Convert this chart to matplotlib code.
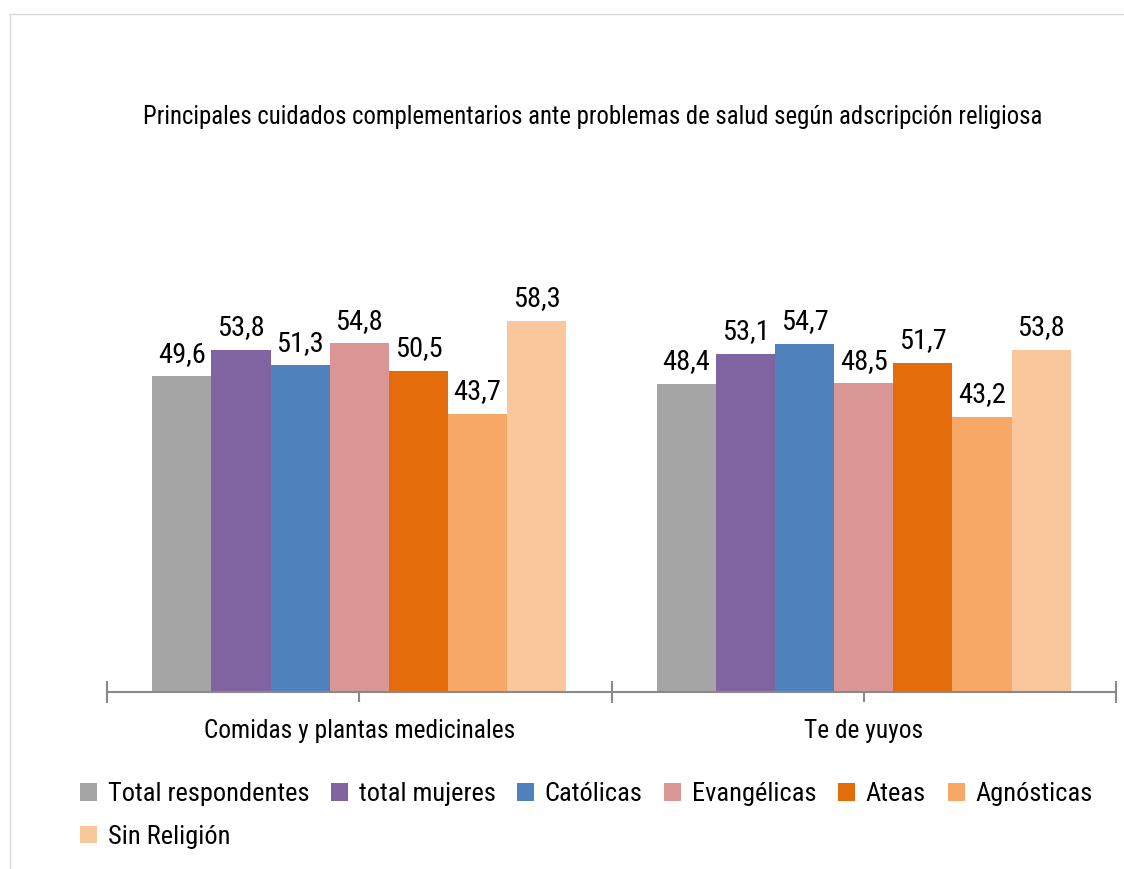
import matplotlib
matplotlib.use("Agg")
import matplotlib.pyplot as plt
import matplotlib.transforms as mtransforms
from matplotlib.patches import Patch
from matplotlib.lines import Line2D
import numpy as np

plt.rcParams['font.family'] = ['Roboto Condensed', 'DejaVu Sans']

# Data
categories = ["Comidas y plantas medicinales", "Te de yuyos"]
series_names = ["Total respondentes", "total mujeres", "Católicas", "Evangélicas",
                "Ateas", "Agnósticas", "Sin Religión"]
total_respondentes = [49.6, 48.4]
total_mujeres = [53.8, 53.1]
catolicas = [51.3, 54.7]
evangelicas = [54.8, 48.5]
ateas = [50.5, 51.7]
agnosticas = [43.7, 43.2]
sin_religion = [58.3, 53.8]
series_values = [total_respondentes, total_mujeres, catolicas, evangelicas,
                 ateas, agnosticas, sin_religion]
colors = ["#A5A5A5", "#8064A2", "#4F81BD", "#D99694", "#E46C0A", "#F7A866", "#FAC69C"]
title = "Principales cuidados complementarios ante problemas de salud según adscripción religiosa"

W, H = 1124, 869
fig = plt.figure(figsize=(W / 100, H / 100), dpi=100)

# axes placed to match the reference pixel layout
ax_left, ax_right = 107 / W, 1116 / W
ax_bottom = (H - 692) / H
ax_height = 70 * 6.365 / H
ax = fig.add_axes([ax_left, ax_bottom, ax_right - ax_left, ax_height])

x = np.arange(len(categories))
w = 0.1172
n = len(series_values)
for i, vals in enumerate(series_values):
    pos = x + (i - (n - 1) / 2) * w
    bars = ax.bar(pos, vals, width=w, color=colors[i], label=series_names[i], zorder=2)
    for b, v in zip(bars, vals):
        ax.annotate(("%.1f" % v).replace(".", ","),
                    (b.get_x() + b.get_width() / 2, v),
                    xytext=(0, 10.5), textcoords="offset points",
                    ha="center", va="baseline", fontsize=20.5, color="#000000")

ax.set_xlim(-0.5, 1.5)
ax.set_ylim(0, 70)
for s in ["top", "right", "left"]:
    ax.spines[s].set_visible(False)
ax.spines["bottom"].set_color("#898989")
ax.spines["bottom"].set_linewidth(1.5)
ax.spines["bottom"].set_zorder(3)
ax.set_yticks([])
ax.set_xticks([-0.5, 0.5, 1.5])
ax.set_xticks(x, minor=True)
ax.tick_params(axis="x", which="major", direction="inout", length=16,
               width=1.5, color="#898989", labelbottom=False)
ax.tick_params(axis="x", which="minor", direction="out", length=7,
               width=1.5, color="#898989", labelbottom=False)

# category labels
trans = mtransforms.blended_transform_factory(ax.transData, fig.transFigure)
for i, c in enumerate(categories):
    ax.text(i, 1 - 731 / H, c, transform=trans, ha="center", va="center",
            fontsize=18.3, color="#000000")

# title
fig.text(593 / W, 1 - 117 / H, title, ha="center", va="center", fontsize=17.8, color="#000000")

# legend: reorder so matplotlib's column filling gives rows like the reference
order = [0, 6, 1, 2, 3, 4, 5]
handles = [Patch(facecolor=colors[k], edgecolor="none") for k in order]
labels = [series_names[k] for k in order]
fig.legend(handles, labels, loc="center left",
           bbox_to_anchor=(80 / W, 1 - 815.5 / H), ncol=6, frameon=False,
           fontsize=19, handlelength=0.65, handleheight=0.65, handletextpad=0.4,
           columnspacing=0.82, labelspacing=0.7, borderpad=0, borderaxespad=0)

# chart area border (top and left visible)
fig.add_artist(Line2D([10 / W, 10 / W], [0, 1 - 14 / H], color="#D9D9D9", lw=1))
fig.add_artist(Line2D([10 / W, 1], [1 - 14 / H, 1 - 14 / H], color="#D9D9D9", lw=1))

fig.savefig("out.png", dpi=100)
